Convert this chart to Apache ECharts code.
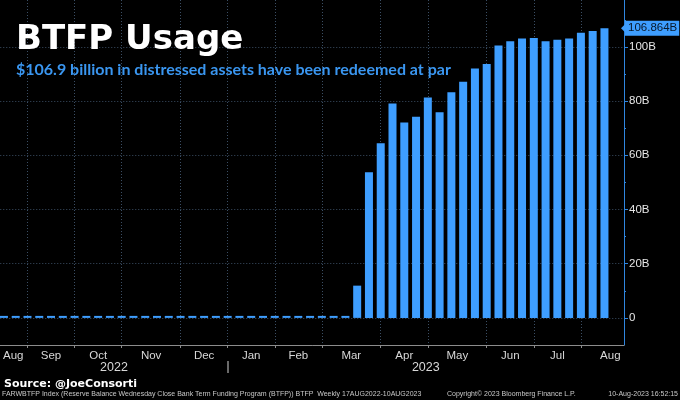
<!DOCTYPE html>
<html>
<head>
<meta charset="utf-8">
<script src="https://cdn.jsdelivr.net/npm/echarts@6/dist/echarts.min.js"></script>
<style>
html, body { margin: 0; padding: 0; background: #000; }
#main { width: 680px; height: 400px; }
</style>
</head>
<body>
<div id="main"></div>
<script>
// weekly readings (Wednesday close)
var weeks = [
    '2022-08-17', '2022-08-24', '2022-08-31', '2022-09-07', '2022-09-14', '2022-09-21', '2022-09-28',
    '2022-10-05', '2022-10-12', '2022-10-19', '2022-10-26', '2022-11-02', '2022-11-09', '2022-11-16',
    '2022-11-23', '2022-11-30', '2022-12-07', '2022-12-14', '2022-12-21', '2022-12-28', '2023-01-04',
    '2023-01-11', '2023-01-18', '2023-01-25', '2023-02-01', '2023-02-08', '2023-02-15', '2023-02-22',
    '2023-03-01', '2023-03-08', '2023-03-15', '2023-03-22', '2023-03-29', '2023-04-05', '2023-04-12',
    '2023-04-19', '2023-04-26', '2023-05-03', '2023-05-10', '2023-05-17', '2023-05-24', '2023-05-31',
    '2023-06-07', '2023-06-14', '2023-06-21', '2023-06-28', '2023-07-05', '2023-07-12', '2023-07-19',
    '2023-07-26', '2023-08-02', '2023-08-09'
];
// BTFP balance, billions
var btfp = [
    0, 0, 0, 0, 0, 0, 0, 0, 0, 0, 0, 0, 0, 0, 0,
    0, 0, 0, 0, 0, 0, 0, 0, 0, 0, 0, 0, 0, 0, 0,
    11.9, 53.7, 64.4, 79.1, 72.1, 74.2, 81.3, 75.9, 83.3, 87.1, 92.0,
    93.7, 100.5, 102.1, 103.1, 103.3, 102.1, 102.6, 103.1, 105.2, 105.9, 106.864
];
var monthNames = ['Aug', 'Sep', 'Oct', 'Nov', 'Dec', 'Jan', 'Feb', 'Mar', 'Apr', 'May', 'Jun', 'Jul', 'Aug'];
var yearNames = ['2022', '2023'];
var yLabels = [0, 20, 40, 60, 80, 100];
var yMinor = [10, 30, 50, 70, 90, 110];

var WEEK = 7 * 24 * 3600 * 1000;
var t = function (s) { return new Date(s + 'T00:00:00Z').getTime(); };
var xMin = t(weeks[0]) - 0.31 * WEEK;
var xMax = t(weeks[weeks.length - 1]) + 1.66 * WEEK;
var last = btfp[btfp.length - 1];

// month ticks sit on the last week of each month
var monthTicks = [];
for (var i = 0; i < weeks.length - 1; i++) {
    if (weeks[i].slice(5, 7) !== weeks[i + 1].slice(5, 7)) monthTicks.push(t(weeks[i]));
}
var ext = [monthTicks[0] - 5 * WEEK].concat(monthTicks, [monthTicks[monthTicks.length - 1] + 5 * WEEK]);
var monthPos = [], monthMap = {};
for (var j = 0; j < ext.length - 1; j++) {
    var p = Math.round((ext[j] + ext[j + 1]) / 2);
    if (j === 0) p = Math.max(p, Math.round(xMin + 1.1 * WEEK));
    monthPos.push(p);
    monthMap[p] = monthNames[j];
}
var yearTick = monthTicks[4]; // end of Dec
var yearPos = [Math.round((xMin + yearTick) / 2), Math.round((yearTick + xMax) / 2)];
var yearMap = {};
yearMap[yearPos[0]] = yearNames[0];
yearMap[yearPos[1]] = yearNames[1];

var gridColor = '#3b4e64';
var blue = '#3e9eff';
var footStyle = { color: '#c8c8c8', fontSize: 7, fontWeight: 'normal', fontFamily: 'Liberation Sans' };

var myChart = echarts.init(document.getElementById('main'));
var option = {
    backgroundColor: '#000',
    animation: false,
    title: [
        { text: 'BTFP Usage', left: 16, top: 23, padding: 0,
          textStyle: { color: '#fff', fontSize: 34, fontWeight: 'bold', fontFamily: 'DejaVu Sans' } },
        { text: '$106.9 billion in distressed assets have been redeemed at par', left: 16, top: 62, padding: 0,
          textStyle: { color: '#3a96f0', fontSize: 16, fontWeight: 'bold', fontFamily: 'Lato' } },
        { text: 'Source: @JoeConsorti', left: 4, top: 379, padding: 0,
          textStyle: { color: '#fff', fontSize: 11, fontWeight: 'bold', fontFamily: 'DejaVu Sans' } },
        { text: 'FARWBTFP Index (Reserve Balance Wednesday Close Bank Term Funding Program (BTFP)) BTFP  Weekly 17AUG2022-10AUG2023',
          left: 2, top: 391, padding: 0, textStyle: footStyle },
        { text: 'Copyright\u00a9 2023 Bloomberg Finance L.P.', left: 447, top: 391, padding: 0, textStyle: footStyle },
        { text: '10-Aug-2023 16:52:15', right: 2, top: 391, padding: 0, textStyle: footStyle }
    ],
    grid: { left: 0, right: 56, top: 0, bottom: 55 },
    xAxis: [{
        type: 'value',
        min: xMin,
        max: xMax,
        axisLine: { show: true, onZero: false, lineStyle: { color: '#8c8c8c', width: 1 } },
        axisTick: { show: true, customValues: monthTicks, length: 3, lineStyle: { color: '#8c8c8c' } },
        axisLabel: {
            customValues: monthPos,
            formatter: function (v) { return monthMap[v] || ''; },
            color: '#d8d8d8', fontSize: 11.5, fontFamily: 'Liberation Sans', margin: 5
        },
        splitLine: { show: true, lineStyle: { color: gridColor, type: [1, 2], width: 1 } }
    }, {
        type: 'value',
        min: xMin,
        max: xMax,
        position: 'bottom',
        offset: 16,
        axisLine: { show: false, onZero: false },
        axisTick: { show: true, customValues: [yearTick], length: 12, lineStyle: { color: '#8c8c8c', width: 1.5 } },
        axisLabel: {
            customValues: yearPos,
            formatter: function (v) { return yearMap[v] || ''; },
            color: '#d8d8d8', fontSize: 12.5, fontFamily: 'Liberation Sans', margin: 0
        },
        splitLine: { show: false }
    }],
    yAxis: [{
        type: 'value',
        position: 'right',
        min: -10,
        max: 117.3,
        axisLine: { show: true, onZero: false, lineStyle: { color: '#2f86e0', width: 1 } },
        axisTick: { show: true, customValues: yLabels, length: 4, lineStyle: { color: '#2f86e0' } },
        axisLabel: {
            customValues: yLabels,
            formatter: function (v) { return v === 0 ? '0' : v + 'B'; },
            color: '#e6e6e6', fontSize: 11.5, fontFamily: 'Liberation Sans', margin: 5
        },
        splitLine: { show: true, lineStyle: { color: gridColor, type: [1, 2], width: 1 } }
    }, {
        type: 'value',
        position: 'right',
        min: -10,
        max: 117.3,
        axisLine: { show: false, onZero: false },
        axisTick: { show: true, customValues: yMinor, length: 2, lineStyle: { color: '#2f86e0' } },
        axisLabel: { show: false },
        splitLine: { show: false }
    }],
    series: [{
        name: 'BTFP',
        type: 'bar',
        xAxisIndex: 0,
        yAxisIndex: 0,
        barWidth: 8,
        barMinHeight: 2,
        color: blue,
        data: weeks.map(function (w, k) { return [t(w), btfp[k]]; }),
        markLine: {
            silent: true,
            precision: 3,
            symbol: ['none', 'path://M0,0L10,0L5,10Z'],
            symbolSize: [12, 6],
            lineStyle: { color: blue, width: 0.01, opacity: 1 },
            label: {
                show: true,
                position: 'end',
                distance: 1,
                formatter: function () { return last.toFixed(3) + 'B'; },
                backgroundColor: blue,
                color: '#08182a',
                fontSize: 11.5,
                fontFamily: 'Liberation Sans',
                padding: [2, 2, 1, 3]
            },
            data: [{ yAxis: last }]
        }
    }]
};
myChart.setOption(option);
</script>
</body>
</html>
